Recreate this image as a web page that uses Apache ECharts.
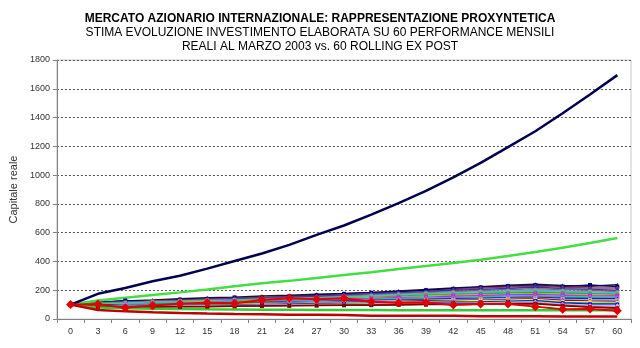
<!DOCTYPE html>
<html><head><meta charset="utf-8">
<script src="https://cdn.jsdelivr.net/npm/echarts@6/dist/echarts.min.js"></script>
<style>html,body{margin:0;padding:0;background:#fff}#c{width:640px;height:348px}</style>
</head><body><div id="c"></div>
<script>
// Category labels (months)
const months = ['0','3','6','9','12','15','18','21','24','27','30','33','36','39','42','45','48','51','54','57','60'];
const yTicks = [0,200,400,600,800,1000,1200,1400,1600,1800];

// Main highlighted series
const navyLine   = [100,175,215,262,300,350,403,455,515,585,650,725,805,890,985,1085,1195,1305,1430,1560,1695];
const greenHigh  = [100,128,148,167,185,205,228,248,265,285,305,325,347,368,390,412,438,465,495,528,563];
const greenLow   = [100,80,74,71,69,67,66,65,64,63,62,62,61,61,61,60,60,60,60,60,60];
const redLow     = [100,62,53,47,42,38,35,33,29,29,28,23,23,22,22,19,19,19,18,18,17];
const realPerf   = [100,102,79,93,106,113,109,132,144,137,144,120,113,115,97,104,104,86,67,69,58];

// Rolling ex-post series
const r1  = [100,118,125,132,140,148,152,160,165,172,178,185,195,205,215,225,235,242,232,228,238];
const r2  = [100,112,128,120,135,140,150,148,158,165,175,182,188,200,210,220,228,235,225,236,225];
const r3  = [100,108,115,125,130,138,145,150,155,160,168,175,182,190,205,215,222,230,220,215,215];
const r4  = [100,115,120,118,128,132,140,145,150,155,165,172,180,190,200,205,212,222,210,205,200];
const r5  = [100,105,118,115,122,128,135,140,148,150,160,168,175,185,190,198,205,210,205,200,190];
const r6  = [100,110,112,120,125,130,132,138,142,148,155,162,170,178,185,190,195,200,195,190,185];
const r7  = [100,102,110,112,118,125,128,132,138,145,150,158,165,170,178,182,188,192,188,182,178];
const r8  = [100,98,105,110,115,118,125,130,135,140,145,150,158,165,170,175,180,185,180,175,170];
const r9  = [100,106,108,108,115,120,122,128,132,138,142,148,152,160,165,168,172,178,172,168,165];
const r10 = [100,95,100,105,110,115,120,122,128,132,138,142,148,152,158,162,166,170,165,160,160];
const r11 = [100,103,102,108,112,112,118,120,125,130,132,138,142,148,150,155,160,162,158,155,152];
const r12 = [100,97,98,103,105,110,115,118,122,125,130,135,138,142,145,150,152,158,150,148,145];
const r13 = [100,100,95,100,102,108,110,115,118,120,125,128,132,135,140,142,148,150,145,140,140];
const r14 = [100,92,96,98,100,104,106,110,114,118,120,124,128,130,134,138,142,145,138,132,130];
const r15 = [100,96,92,95,98,100,104,108,110,112,116,120,122,126,128,132,135,140,130,125,122];
const r16 = [100,90,90,94,96,98,102,104,106,110,112,115,118,120,124,128,130,135,122,118,115];
const r17 = [100,94,88,92,94,96,98,100,104,106,108,112,114,116,118,120,124,128,115,110,108];
const r18 = [100,88,86,90,92,94,95,98,100,102,104,106,110,112,114,116,120,125,110,102,100];
const r19 = [100,91,85,88,90,92,94,96,98,100,102,104,106,108,110,112,116,120,105,96,95];
const r20 = [100,86,84,86,88,90,92,94,96,98,100,102,104,106,108,110,112,115,100,90,85];
const r21 = [100,89,82,85,87,88,90,92,94,96,97,99,101,103,104,106,108,110,95,85,78];
const r22 = [100,85,80,84,85,86,88,90,92,93,95,96,98,100,101,102,104,106,92,82,74];

const rolling = [r1,r2,r3,r4,r5,r6,r7,r8,r9,r10,r11,r12,r13,r14,r15,r16,r17,r18,r19,r20,r21,r22];
const rollColors = ['#1a1a1a','#000080','#993366','#333399','#666699','#969696','#33CCCC','#339966','#99CC00','#FF00FF','#00CCFF','#808080','#003366','#CC99FF','#800080','#FFFF00','#008080','#0000FF','#99CCFF','#FF99CC','#993300','#800000'];
const symbols = ['triangle','rect','diamond','circle'];

const font = "'Liberation Sans', Arial, sans-serif";
const series = [];
rolling.forEach((d, i) => {
  series.push({
    type: 'line', data: d, symbol: symbols[i % 4], symbolSize: 4,
    lineStyle: { width: 1.5, color: rollColors[i] },
    itemStyle: { color: rollColors[i] },
    silent: true, animation: false
  });
});
function plain(d, color, w) {
  return { type: 'line', data: d, symbol: 'none', lineStyle: { width: w, color: color }, itemStyle: { color: color }, animation: false, silent: true };
}
series.push(plain(greenLow, '#33CC33', 2.5));
series.push(plain(greenHigh, '#44DD44', 2.5));
series.push(plain(navyLine, '#000050', 2.5));
series.push(plain(redLow, '#C00000', 2.5));
series.push({
  type: 'line', data: realPerf, symbol: 'diamond', symbolSize: 9,
  lineStyle: { width: 2, color: '#E00000' }, itemStyle: { color: '#E00000' },
  animation: false, silent: true
});

const chart = echarts.init(document.getElementById('c'));
chart.setOption({
  backgroundColor: '#fff',
  animation: false,
  title: [
    { text: 'MERCATO AZIONARIO INTERNAZIONALE: RAPPRESENTAZIONE PROXYNTETICA', left: 'center', top: 13, padding: 0,
      textStyle: { fontFamily: font, fontSize: 12, fontWeight: 'bold', color: '#000' } },
    { text: 'STIMA EVOLUZIONE INVESTIMENTO ELABORATA SU 60 PERFORMANCE MENSILI', left: 'center', top: 27, padding: 0,
      textStyle: { fontFamily: font, fontSize: 12, fontWeight: 'normal', color: '#000' } },
    { text: 'REALI AL MARZO 2003 vs. 60 ROLLING EX POST', left: 'center', top: 41, padding: 0,
      textStyle: { fontFamily: font, fontSize: 12, fontWeight: 'normal', color: '#000' } }
  ],
  grid: { left: 54, right: 9, top: 60, bottom: 29, show: true, borderColor: '#c8c8c8', borderWidth: 1 },
  xAxis: {
    type: 'category', data: months, boundaryGap: true,
    axisLine: { lineStyle: { color: '#808080', width: 1 } },
    axisTick: { show: true, length: 4, lineStyle: { color: '#808080' } },
    axisLabel: { fontFamily: font, fontSize: 9, color: '#333', margin: 8, interval: 0 },
    splitLine: { show: false }
  },
  yAxis: {
    type: 'value', min: yTicks[0], max: yTicks[yTicks.length - 1], interval: 200,
    name: 'Capitale reale', nameLocation: 'middle', nameGap: 34, nameRotate: 90,
    nameTextStyle: { fontFamily: font, fontSize: 11, color: '#333' },
    axisLine: { show: true, lineStyle: { color: '#808080', width: 1 } },
    axisTick: { show: true, length: 4, lineStyle: { color: '#808080' } },
    axisLabel: { fontFamily: font, fontSize: 9, color: '#333', margin: 7, formatter: v => String(v) },
    splitLine: { show: true, lineStyle: { color: '#555', type: [2, 2], width: 1 } }
  },
  series: series
});
</script>
</body></html>
